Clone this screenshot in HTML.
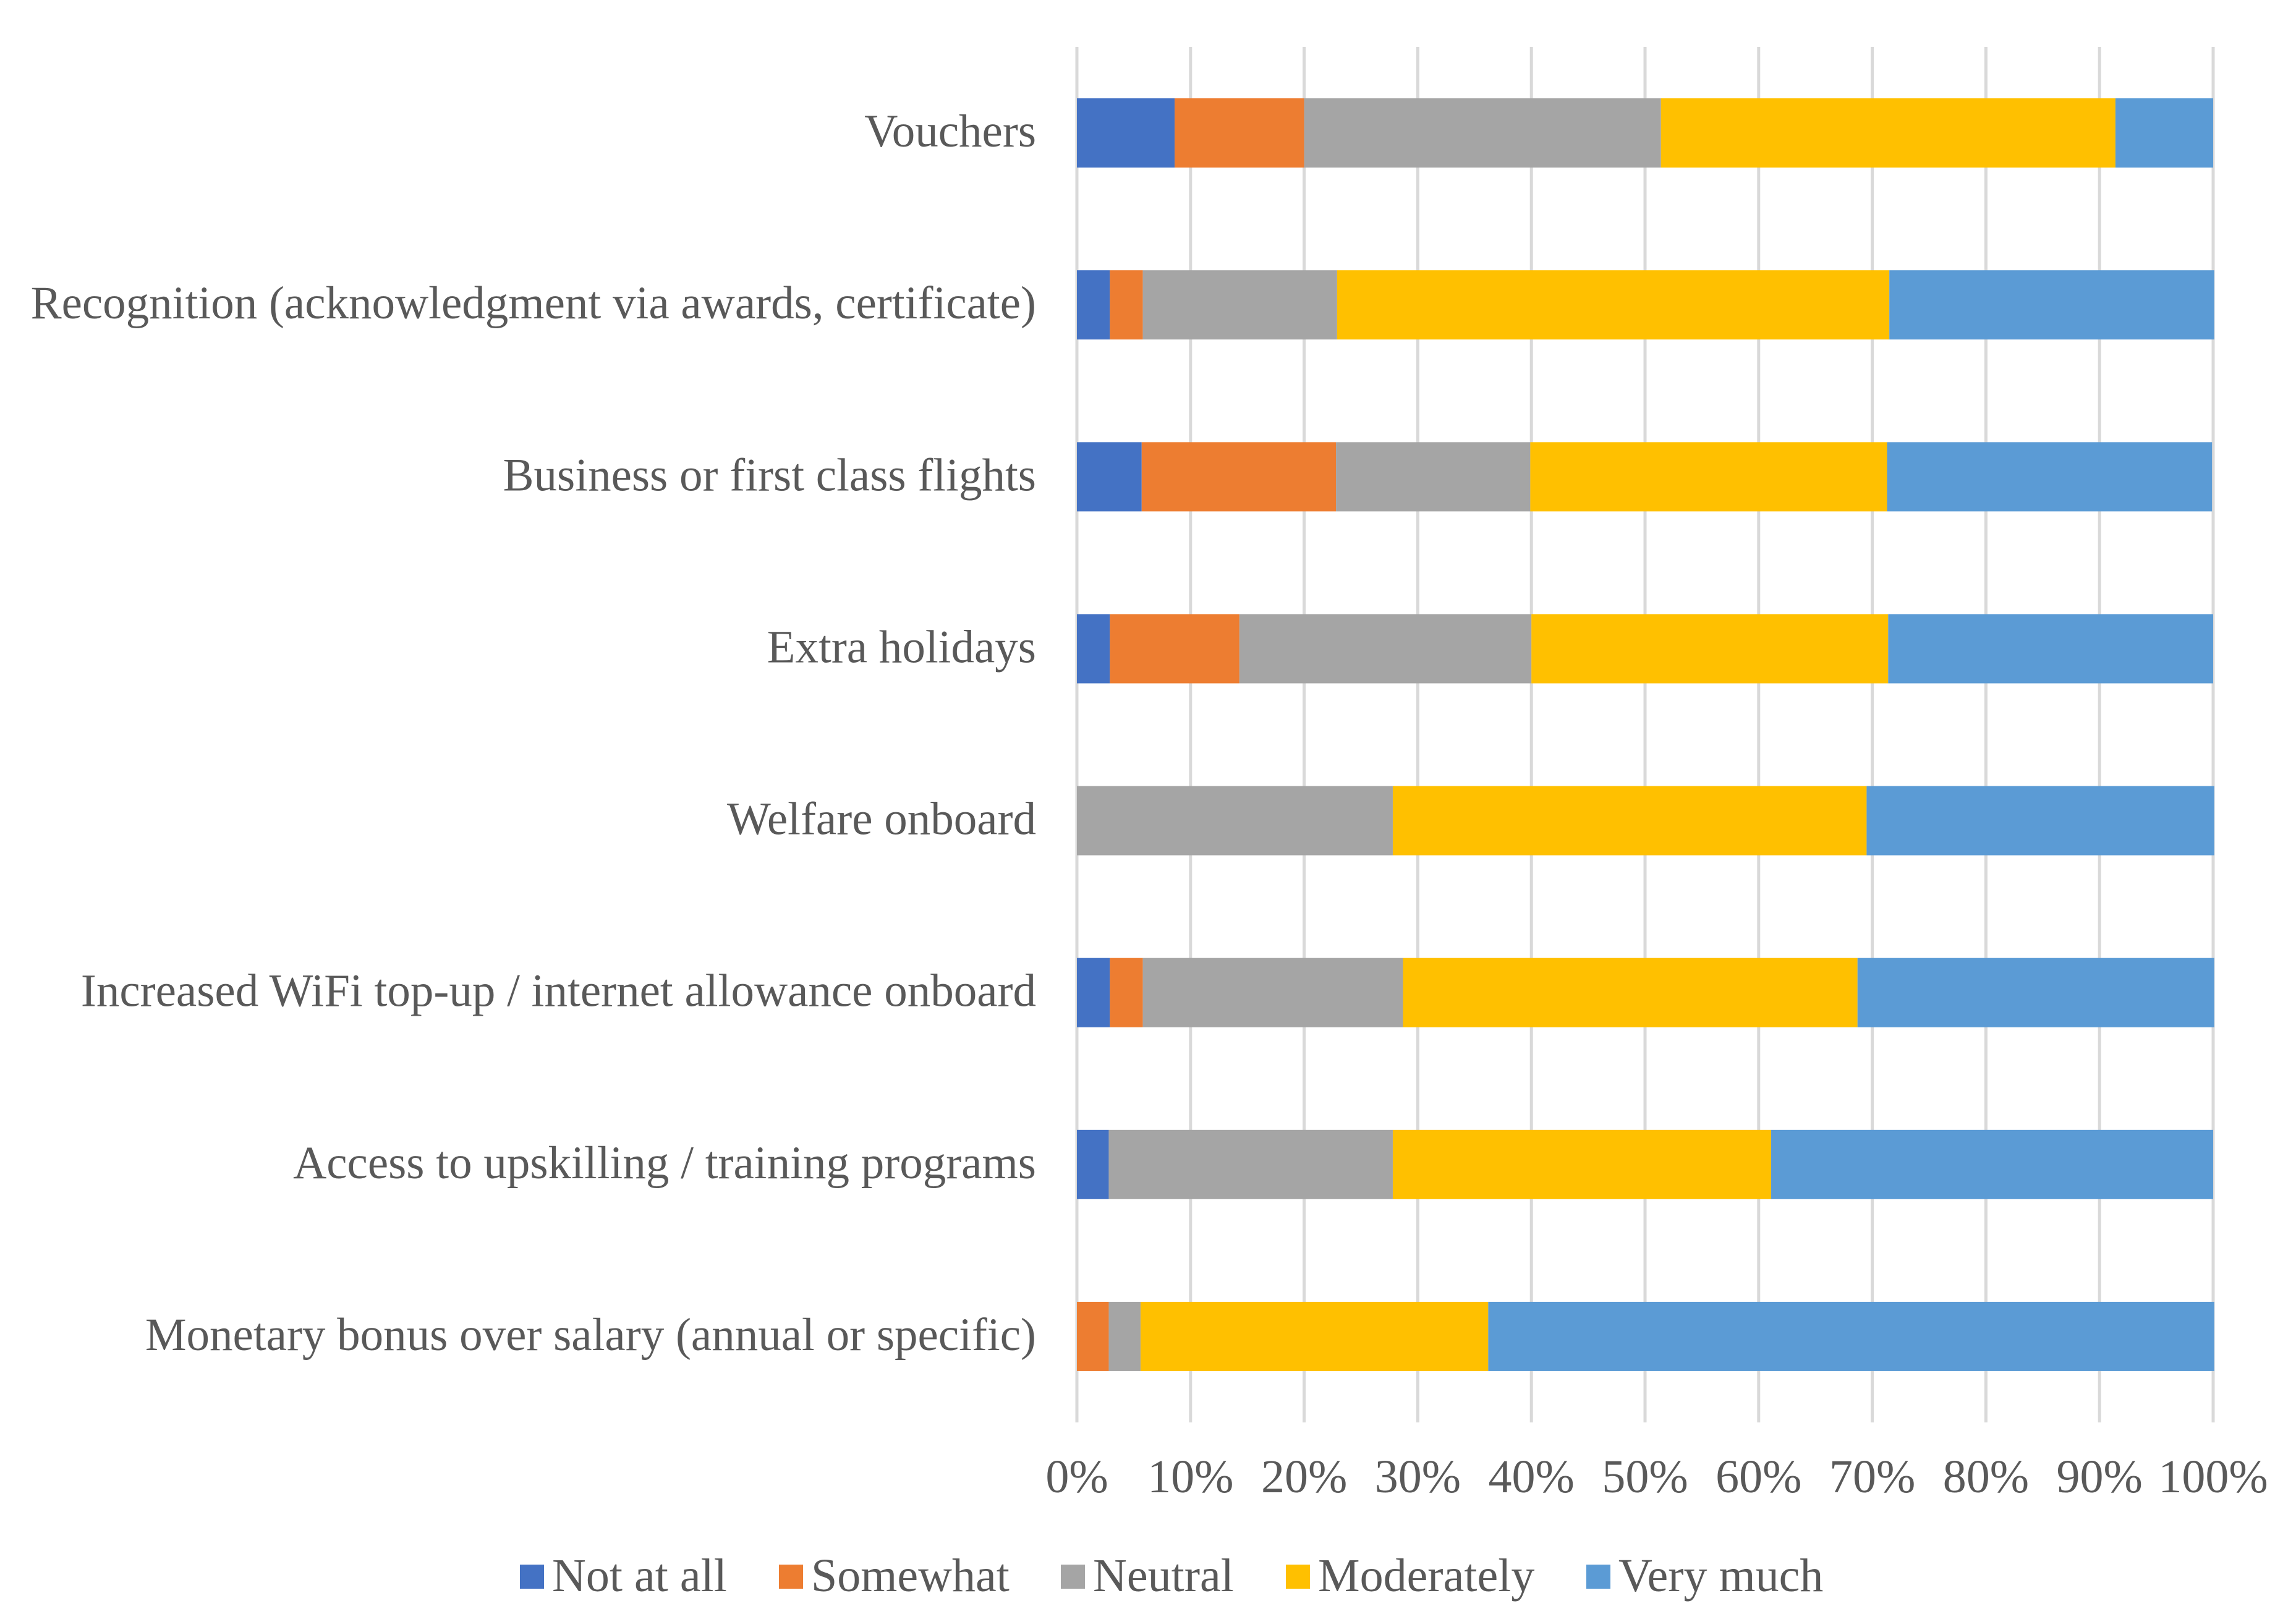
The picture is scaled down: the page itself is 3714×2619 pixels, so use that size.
<!DOCTYPE html>
<html><head><meta charset="utf-8"><style>
html,body{margin:0;padding:0;background:#fff;}
svg{display:block;font-family:"Liberation Serif",serif;}
</style></head><body>
<svg id="chart" width="3714" height="2619" viewBox="0 0 3714 2619" xmlns="http://www.w3.org/2000/svg">
<rect width="3714" height="2619" fill="#fff"/>
<g id="grid"></g>
<g id="bars"></g>
<g id="ylabels"></g>
<g id="xlabels"></g>
<g id="legend"></g>
</svg>
<script>
const categories = ["Vouchers","Recognition (acknowledgment via awards, certificate)","Business or first class flights","Extra holidays","Welfare onboard","Increased WiFi top-up / internet allowance onboard","Access to upskilling / training programs","Monetary bonus over salary (annual or specific)"];
const seriesNames = ["Not at all","Somewhat","Neutral","Moderately","Very much"];
const notAtAll   = [8.6, 2.9, 5.7, 2.9, 0, 2.9, 2.8, 0];
const somewhat   = [11.4, 2.9, 17.1, 11.4, 0, 2.9, 0, 2.8];
const neutral    = [31.4, 17.1, 17.1, 25.7, 27.8, 22.9, 25.0, 2.8];
const moderately = [40.0, 48.6, 31.4, 31.4, 41.7, 40.0, 33.3, 30.6];
const veryMuch   = [8.6, 28.6, 28.6, 28.6, 30.6, 31.4, 38.9, 63.9];
const tickLabels = ["0%","10%","20%","30%","40%","50%","60%","70%","80%","90%","100%"];
const colors = ["#4472C4","#ED7D31","#A5A5A5","#FFC000","#5B9BD5"];
const series = [notAtAll, somewhat, neutral, moderately, veryMuch];

const NS="http://www.w3.org/2000/svg";
const X0=1742, X1=3580, Y0=76, Y1=2301;
const band=(Y1-Y0)/categories.length, barH=112;
const xs=v=>X0+(X1-X0)*v/100;
const yc=i=>Y0+band*(i+0.5);
function mk(tag,attrs,parent){const e=document.createElementNS(NS,tag);for(const k in attrs)e.setAttribute(k,attrs[k]);parent.appendChild(e);return e;}
const grid=document.getElementById('grid');
tickLabels.forEach((t,i)=>{
  const v=i*10;
  const l=mk('line',{x1:xs(v),x2:xs(v),y1:Y0,y2:Y1,stroke:'#d9d9d9','stroke-width':5},grid);
  
  
  const tx=mk('text',{x:xs(v),y:2414,'text-anchor':'middle','font-size':76,fill:'#595959'},document.getElementById('xlabels'));
  tx.textContent=t;
  
  
});
const bars=document.getElementById('bars');
categories.forEach((c,i)=>{
  let acc=0;
  series.forEach((s,j)=>{
    const v=s[i];
    if(v>0){
      const r=mk('rect',{x:xs(acc),y:yc(i)-barH/2,width:xs(acc+v)-xs(acc),height:barH,fill:colors[j]},bars);
      
      
    }
    acc+=v;
  });
  const t=mk('text',{x:1676,y:yc(i)+22,'text-anchor':'end','font-size':75,fill:'#595959'},document.getElementById('ylabels'));
  t.textContent=c;
  
  
});
const legX=[841,1260,1716,2080,2566];
const leg=document.getElementById('legend');
seriesNames.forEach((n,j)=>{
  const g=mk('g',{},leg);
  
  
  mk('rect',{x:legX[j],y:2531,width:39,height:39,fill:colors[j]},g);
  const t=mk('text',{x:legX[j]+52,y:2574,'font-size':76,fill:'#595959'},g);
  t.textContent=n;
});
</script>
</body></html>
